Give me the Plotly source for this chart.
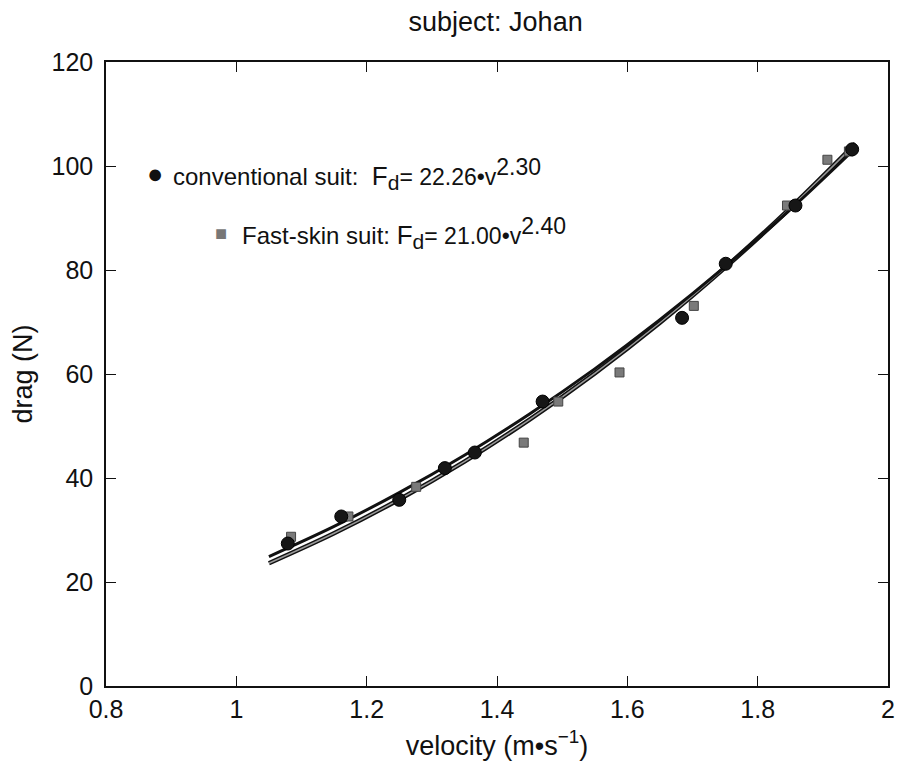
import plotly.graph_objects as go

conv_v = [1.079, 1.161, 1.250, 1.320, 1.366, 1.470, 1.684, 1.751, 1.858, 1.945]
conv_drag = [27.4, 32.6, 35.8, 41.9, 44.9, 54.7, 70.8, 81.2, 92.4, 103.2]

fast_v = [1.084, 1.172, 1.276, 1.441, 1.494, 1.588, 1.702, 1.845, 1.907, 1.940]
fast_drag = [28.7, 32.6, 38.3, 46.8, 54.7, 60.3, 73.1, 92.4, 101.2, 102.8]

# Fitted curves as drawn
fit_v = [1.05, 1.15, 1.25, 1.35, 1.45, 1.55, 1.65, 1.75, 1.85, 1.95]
conv_fit = [24.90, 30.70, 37.19, 44.39, 52.32, 60.99, 70.43, 80.64, 91.62, 103.42]
fast_fit = [23.61, 29.37, 35.88, 43.16, 51.23, 60.12, 69.85, 80.45, 91.92, 104.30]

x_ticks = [0.8, 1, 1.2, 1.4, 1.6, 1.8, 2]
x_tick_text = ["0.8", "1", "1.2", "1.4", "1.6", "1.8", "2"]
y_ticks = [0, 20, 40, 60, 80, 100, 120]

FONT = "Liberation Sans, Arial, Helvetica, sans-serif"

fig = go.Figure()
fig.add_trace(go.Scatter(x=fit_v, y=fast_fit, mode="lines", line=dict(color="#111", width=4.5, shape="spline"),
                         showlegend=False, hoverinfo="skip"))
fig.add_trace(go.Scatter(x=fit_v, y=fast_fit, mode="lines", line=dict(color="#9a9a9a", width=1.5, shape="spline"),
                         showlegend=False, hoverinfo="skip"))
fig.add_trace(go.Scatter(x=fit_v, y=conv_fit, mode="lines", line=dict(color="#111", width=3, shape="spline"),
                         showlegend=False, hoverinfo="skip"))
fig.add_trace(go.Scatter(x=fast_v, y=fast_drag, mode="markers",
                         marker=dict(symbol="square", size=9, color="#7a7a7a", line=dict(color="#444", width=1)),
                         showlegend=False))
fig.add_trace(go.Scatter(x=conv_v, y=conv_drag, mode="markers",
                         marker=dict(symbol="circle", size=13, color="#161616", line=dict(color="#000", width=1)),
                         showlegend=False))

# page-pixel -> paper helpers (plot area spans x 106..895, y 62..686 in the page)
def px_x(p):
    return (p - 106) / 789

def px_y(p):
    return (686 - p) / 624

annos = [
    dict(x=px_x(155), y=px_y(174), text="●", font=dict(size=27, color="#111", family=FONT)),
    dict(x=px_x(172), y=px_y(174), xanchor="left",
         text="conventional suit:  <span style='font-size:26px'>F</span><sub><span style='font-size:21px'>d</span></sub><span style='font-size:23px'>= 22.26•v</span><sup><span style='font-size:23px'>2.30</span></sup>",
         font=dict(size=24, color="#111", family=FONT)),
    dict(x=px_x(222), y=px_y(233), text="■", font=dict(size=20, color="#777", family=FONT)),
    dict(x=px_x(241), y=px_y(233), xanchor="left",
         text="Fast-skin suit: <span style='font-size:26px'>F</span><sub><span style='font-size:21px'>d</span></sub><span style='font-size:23px'>= 21.00•v</span><sup><span style='font-size:23px'>2.40</span></sup>",
         font=dict(size=24, color="#111", family=FONT)),
]
for a in annos:
    a.setdefault("xanchor", "center")
    fig.add_annotation(xref="paper", yref="paper", showarrow=False, yanchor="middle", **a)

axis_common = dict(showgrid=False, zeroline=False, showline=True, linecolor="#111", linewidth=1.5,
                   mirror="ticks", ticks="inside", ticklen=10, tickwidth=1.2, tickcolor="#111",
                   tickfont=dict(size=25, color="#111", family=FONT))

fig.update_layout(
    width=898, height=763,
    margin=dict(l=98, r=11, t=54, b=85),
    plot_bgcolor="white", paper_bgcolor="white",
    title=dict(text="subject: Johan", x=0.543, xanchor="center", y=0.982, yanchor="middle",
               font=dict(size=27, color="#111", family=FONT)),
    xaxis=dict(range=[0.8, 2], tickvals=x_ticks, ticktext=x_tick_text,
               title=dict(text="velocity (m•s<sup>−1</sup>)", font=dict(size=27, color="#111", family=FONT), standoff=14),
               **axis_common),
    yaxis=dict(range=[0, 120], tickvals=y_ticks, ticklabelstandoff=6,
               title=dict(text="drag (N)", font=dict(size=27, color="#111", family=FONT), standoff=14),
               **axis_common),
)

fig.write_html("out.html")
